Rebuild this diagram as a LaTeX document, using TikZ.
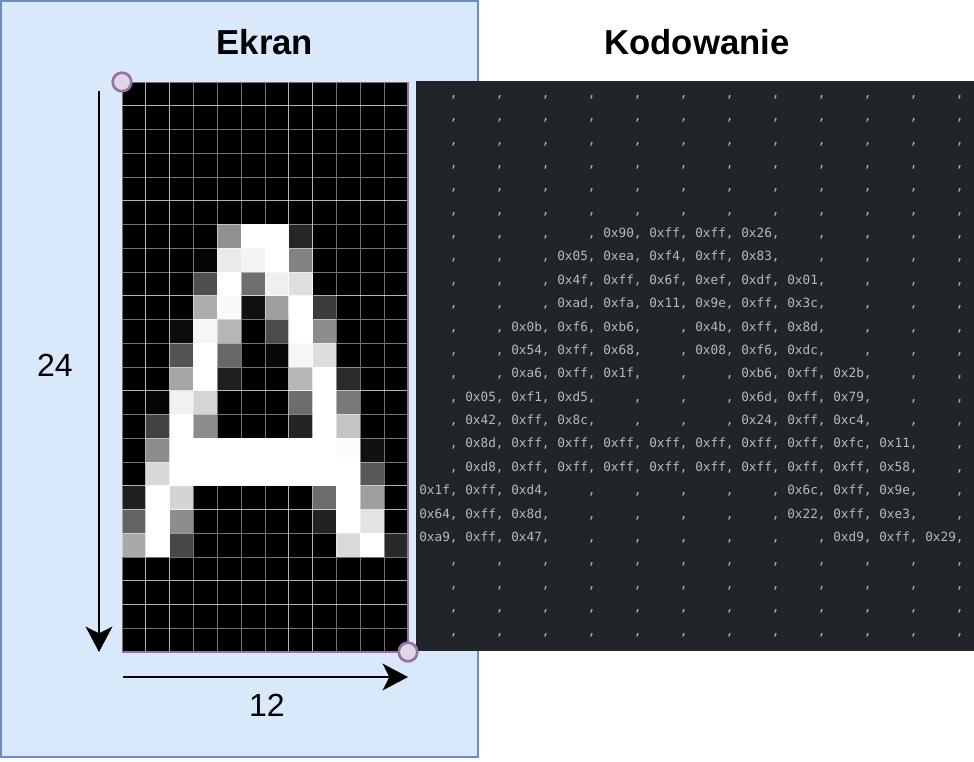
\documentclass[tikz,border=0pt]{standalone}
\usepackage{fontspec}
\setmainfont{Liberation Sans}
\newfontfamily\codefont{DejaVu Sans Mono}
\usetikzlibrary{arrows.meta}
\definecolor{cpanel}{HTML}{DAE8FC}
\definecolor{cpanelline}{HTML}{6C8EBF}
\definecolor{cpurple}{HTML}{9673A6}
\definecolor{clilac}{HTML}{E1D5E7}
\definecolor{ccode}{HTML}{212428}
\definecolor{ctext}{HTML}{B4BCBC}
\tikzset{
  title/.style={font=\bfseries\fontsize{26}{30}\selectfont, anchor=base},
  dimlabel/.style={font=\fontsize{24}{28}\selectfont},
  arrow/.style={-{Stealth[length=19pt, width=20pt, inset=5pt]}, line width=2pt},
  pixel/.style={draw=white, draw opacity=0.45, line width=0.5pt},
  hexcode/.style={font=\codefont\fontsize{9.55}{11}\selectfont, text=ctext, anchor=base west, inner sep=0pt},
  handle/.style={circle, draw=cpurple, fill=clilac, line width=2pt, minimum size=14pt, inner sep=0pt},
}

\begin{document}
\begin{tikzpicture}[x=0.75pt, y=-0.75pt]
  \useasboundingbox (0,0) rectangle (974,762);
  \draw[fill=cpanel, draw=cpanelline, line width=1.5pt] (1,1) rectangle (478,757);
  \node[title] (ekran) at (265,55) {Ekran};
  \node[title] (kodowanie) at (697,55) {Kodowanie};
  \fill[ccode] (416,81) rectangle (974,651);

  % 12x24 pixels of the letter, left as grey cells, right as hex codes
  \foreach \line [count=\r from 0] in {
    {-,-,-,-,-,-,-,-,-,-,-,-},
    {-,-,-,-,-,-,-,-,-,-,-,-},
    {-,-,-,-,-,-,-,-,-,-,-,-},
    {-,-,-,-,-,-,-,-,-,-,-,-},
    {-,-,-,-,-,-,-,-,-,-,-,-},
    {-,-,-,-,-,-,-,-,-,-,-,-},
    {-,-,-,-,90,ff,ff,26,-,-,-,-},
    {-,-,-,05,ea,f4,ff,83,-,-,-,-},
    {-,-,-,4f,ff,6f,ef,df,01,-,-,-},
    {-,-,-,ad,fa,11,9e,ff,3c,-,-,-},
    {-,-,0b,f6,b6,-,4b,ff,8d,-,-,-},
    {-,-,54,ff,68,-,08,f6,dc,-,-,-},
    {-,-,a6,ff,1f,-,-,b6,ff,2b,-,-},
    {-,05,f1,d5,-,-,-,6d,ff,79,-,-},
    {-,42,ff,8c,-,-,-,24,ff,c4,-,-},
    {-,8d,ff,ff,ff,ff,ff,ff,ff,fc,11,-},
    {-,d8,ff,ff,ff,ff,ff,ff,ff,ff,58,-},
    {1f,ff,d4,-,-,-,-,-,6c,ff,9e,-},
    {64,ff,8d,-,-,-,-,-,22,ff,e3,-},
    {a9,ff,47,-,-,-,-,-,-,d9,ff,29},
    {-,-,-,-,-,-,-,-,-,-,-,-},
    {-,-,-,-,-,-,-,-,-,-,-,-},
    {-,-,-,-,-,-,-,-,-,-,-,-},
    {-,-,-,-,-,-,-,-,-,-,-,-}}{
    \foreach \v [count=\c from 0] in \line {
      \if-\v
        \filldraw[pixel, fill=black] (122+23.83*\c, 82+23.75*\r) rectangle ++(23.83,23.75);
        \node[hexcode] (h\r-\c) at (419+46*\c, 97.3+23.38*\r) {\hphantom{0x00},};
      \else
        \pgfmathbasetodec{\dec}{\v}{16}
        \pgfmathsetmacro{\shade}{\dec/2.55}
        \filldraw[pixel, fill=white!\shade!black] (122+23.83*\c, 82+23.75*\r) rectangle ++(23.83,23.75);
        \node[hexcode] (h\r-\c) at (419+46*\c, 97.3+23.38*\r) {0x\v,};
      \fi
    }
  }

  \coordinate (gridtl) at (122,82);
  \coordinate (gridbr) at (408,652);
  \draw[cpurple, line width=2pt] (gridtl -| gridbr) -- (gridbr) -- (gridtl |- gridbr);
  \node[handle] (htl) at (gridtl) {};
  \node[handle] (hbr) at (gridbr) {};

  \coordinate (vtop) at (99,91);
  \coordinate (vbot) at (99,652);
  \draw[arrow] (vtop) -- (vbot);
  \node[dimlabel] (rows) at (55,365) {24};

  \coordinate (hleft) at (123,677);
  \coordinate (hright) at (408,677);
  \draw[arrow] (hleft) -- (hright);
  \node[dimlabel] (cols) at (267,705) {12};
\end{tikzpicture}
\end{document}
